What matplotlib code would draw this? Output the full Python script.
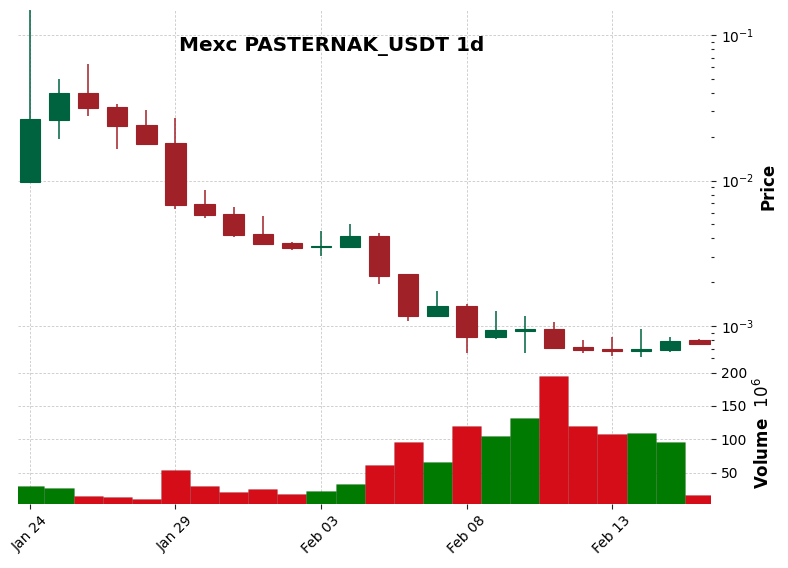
import numpy as np
import pandas as pd
import matplotlib
matplotlib.use("Agg")
import matplotlib.pyplot as plt
from matplotlib.ticker import LogLocator, NullFormatter

# Дневные свечи PASTERNAK_USDT (Mexc)
dates = pd.date_range("2025-01-24", periods=24, freq="D")
opens = [0.0098, 0.0261, 0.0401, 0.0322, 0.0242, 0.0182, 0.00693, 0.00592,
         0.00431, 0.00374, 0.00347, 0.00351, 0.00418, 0.00227, 0.00117, 0.00137,
         0.000843, 0.000931, 0.000953, 0.000721, 0.000698, 0.000673, 0.000681, 0.000798]
highs = [0.148, 0.0497, 0.0629, 0.0334, 0.0308, 0.0270, 0.00861, 0.00655,
         0.00568, 0.00378, 0.00448, 0.00500, 0.00434, 0.00229, 0.00174, 0.00142,
         0.00126, 0.00117, 0.00106, 0.000798, 0.000836, 0.000948, 0.000836, 0.000815]
lows = [0.0098, 0.0192, 0.0276, 0.0166, 0.0175, 0.00637, 0.00550, 0.00407,
        0.00364, 0.00331, 0.00303, 0.00350, 0.00196, 0.00108, 0.00117, 0.000648,
        0.000811, 0.000648, 0.000692, 0.000648, 0.000622, 0.000610, 0.000659, 0.000736]
closes = [0.0266, 0.0401, 0.0315, 0.0237, 0.0178, 0.00683, 0.00580, 0.00422,
          0.00366, 0.00345, 0.00355, 0.00418, 0.00222, 0.00117, 0.00137, 0.000843,
          0.000939, 0.000957, 0.000706, 0.000684, 0.000673, 0.000698, 0.000793, 0.000752]
# объём в миллионах
volumes = [29.2, 26.2, 14.7, 12.8, 9.8, 54.5, 29.2, 20.2, 24.7, 17.3, 21.7, 33.6,
           61.9, 96.1, 66.4, 119.9, 105.0, 131.8, 194.8, 119.9, 108.0, 109.5, 96.1, 15.8]

title = "Mexc PASTERNAK_USDT 1d"

# стиль "charles"
UP, DOWN = "#006340", "#A02128"
VUP, VDOWN = "#007a00", "#d50d18"
GRID = dict(color="#c8c8c8", linestyle=(0, (3, 2)), linewidth=0.6)

o = np.array(opens)
h = np.array(highs)
l = np.array(lows)
c = np.array(closes)
v = np.array(volumes)
x = np.arange(len(dates))
up = c >= o

W, H = 788, 568
fig = plt.figure(figsize=(W / 100, H / 100), dpi=100)
ax = fig.add_axes([18 / W, 1 - 362.5 / H, 693 / W, 352.5 / H])
axv = fig.add_axes([18 / W, 1 - 504 / H, 693 / W, 141 / H], sharex=ax)

# свечи
ccol = np.where(up, UP, DOWN)
ax.set_yscale("log")
ax.vlines(x, l, h, colors=ccol, linewidth=1.1, zorder=3)
ax.bar(x, np.abs(c - o), bottom=np.minimum(o, c), width=0.7, color=ccol,
       edgecolor=ccol, linewidth=0.8, zorder=4)

# объём
vcol = np.where(up, VUP, VDOWN)
axv.bar(x, v, width=1.0, color=vcol, edgecolor=(0, 0, 0, 0.12), linewidth=0.6, zorder=3)

ax.set_xlim(-0.41, 23.4)
ax.set_ylim(0.000561, 0.149)
axv.set_ylim(0.3 * v.min(), 1.1 * v.max())

for a in (ax, axv):
    for s in a.spines.values():
        s.set_visible(False)
    a.yaxis.tick_right()
    a.yaxis.set_label_position("right")
    a.grid(True, **GRID)
    a.set_axisbelow(True)
    a.tick_params(axis="both", labelsize=10, length=3.5, width=0.8, color="#222222")

ax.yaxis.set_major_locator(LogLocator(base=10))
ax.yaxis.set_minor_locator(LogLocator(base=10, subs=np.arange(2, 10)))
ax.yaxis.set_minor_formatter(NullFormatter())
ax.tick_params(axis="y", which="minor", length=2, width=0.8, color="#222222")
ax.tick_params(axis="x", which="both", bottom=False, labelbottom=False)

axv.set_yticks([50, 100, 150, 200])
tick_idx = [0, 5, 10, 15, 20]
axv.set_xticks(tick_idx)
axv.set_xticklabels([dates[i].strftime("%b %d") for i in tick_idx], rotation=45)

ax.set_ylabel("Price", fontsize=12, fontweight="bold")
axv.set_ylabel("Volume  $10^{6}$", fontsize=12, fontweight="bold")

fig.text(332 / W, 1 - 46 / H, title, fontsize=14.4, fontweight="bold",
         ha="center", va="center")

fig.savefig("out.png", dpi=100)
